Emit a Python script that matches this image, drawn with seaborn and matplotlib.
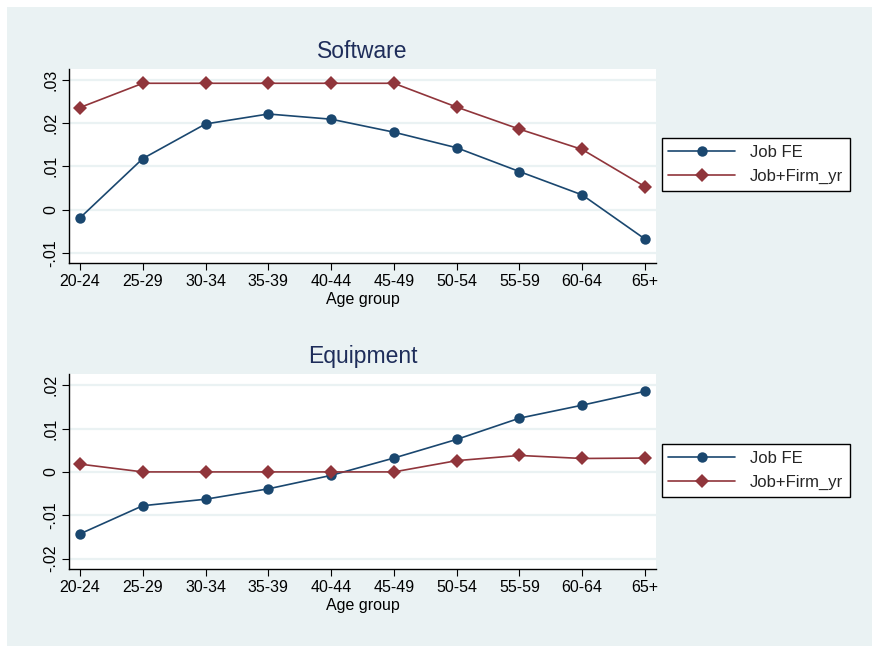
import matplotlib
matplotlib.use("Agg")
import matplotlib.pyplot as plt
from matplotlib.lines import Line2D
import seaborn as sns
import pandas as pd

age_groups = ["20-24", "25-29", "30-34", "35-39", "40-44",
              "45-49", "50-54", "55-59", "60-64", "65+"]

software_job_fe = [-0.0019, 0.0118, 0.0198, 0.0221, 0.0209,
                   0.0179, 0.0143, 0.0088, 0.0034, -0.0068]
software_job_firm = [0.0236, 0.0292, 0.0292, 0.0292, 0.0292,
                     0.0292, 0.0237, 0.0186, 0.0139, 0.0053]

equipment_job_fe = [-0.0143, -0.0078, -0.0063, -0.0039, -0.0008,
                    0.0032, 0.0075, 0.0124, 0.0154, 0.0186]
equipment_job_firm = [0.0018, 0.0000, 0.0000, 0.0000, 0.0000,
                      0.0000, 0.0026, 0.0038, 0.0031, 0.0032]

series_names = ["Job FE", "Job+Firm_yr"]
yticks_software = [-0.01, 0.0, 0.01, 0.02, 0.03]
yticks_equipment = [-0.02, -0.01, 0.0, 0.01, 0.02]
ytick_labels_software = ["-.01", "0", ".01", ".02", ".03"]
ytick_labels_equipment = ["-.02", "-.01", "0", ".01", ".02"]

NAVY = "#1a476f"
MAROON = "#90353b"
BG = "#eaf2f3"
TITLE_COLOR = "#1e2d5a"

sns.set_theme(style="white")
plt.rcParams["font.family"] = ["Liberation Sans", "DejaVu Sans"]

fig = plt.figure(figsize=(8.72, 6.46), dpi=100)
fig.patch.set_facecolor("white")
# light background panel
fig.add_artist(plt.Rectangle((7 / 872, 0), 1, 1 - 7 / 646,
                             transform=fig.transFigure, facecolor=BG,
                             edgecolor="none", zorder=-10))


def long_frame(fe, firm):
    return pd.DataFrame({
        "Age group": age_groups * 2,
        "value": list(fe) + list(firm),
        "model": [series_names[0]] * len(age_groups) + [series_names[1]] * len(age_groups),
    })


def panel(rect, title, fe, firm, ylim, yticks, ylabels, legend_y):
    ax = fig.add_axes(rect)
    ax.set_facecolor("white")
    df = long_frame(fe, firm)
    sns.lineplot(data=df, x="Age group", y="value", hue="model", style="model",
                 palette={series_names[0]: NAVY, series_names[1]: MAROON},
                 markers={series_names[0]: "o", series_names[1]: "D"},
                 dashes=False, markersize=7.5, linewidth=1.2,
                 markeredgewidth=0, sort=False, legend=False, ax=ax)
    ax.set_xlim(-0.17, 9.175)
    ax.set_ylim(*ylim)
    ax.set_yticks(yticks)
    ax.set_yticklabels(ylabels, rotation=90, va="center")
    ax.set_xticks(range(len(age_groups)))
    ax.set_xticklabels(age_groups)
    ax.yaxis.grid(True, color=BG, linewidth=1.6)
    ax.set_axisbelow(True)
    for s in ["top", "right"]:
        ax.spines[s].set_visible(False)
    for s in ["left", "bottom"]:
        ax.spines[s].set_color("black")
        ax.spines[s].set_linewidth(1.0)
    ax.tick_params(axis="both", which="major", direction="out", length=5,
                   width=0.8, color="black", labelsize=11.5, labelcolor="black",
                   left=True, bottom=True, pad=3)
    ax.set_xlabel("Age group", fontsize=11.5, color="black", labelpad=2)
    ax.set_ylabel("")
    ax.set_title(title, fontsize=16.5, color=TITLE_COLOR, pad=8)

    handles = [
        Line2D([], [], color=NAVY, marker="o", markersize=7.5, markeredgewidth=0,
               linewidth=1.2),
        Line2D([], [], color=MAROON, marker="D", markersize=7.5, markeredgewidth=0,
               linewidth=1.2),
    ]
    leg = fig.legend(handles, series_names, loc="upper left",
                     bbox_to_anchor=(661.7 / 872, legend_y),
                     frameon=True, fancybox=False, framealpha=1,
                     edgecolor="black", facecolor="white", fontsize=12,
                     handlelength=4.0, handletextpad=0.9, borderpad=0.4,
                     borderaxespad=0, labelspacing=0.55)
    leg.get_frame().set_linewidth(1.0)
    return ax


panel([0.0795, 0.5924, 0.6728, 0.3008], "Software",
      software_job_fe, software_job_firm, (-0.0124, 0.0325),
      yticks_software, ytick_labels_software, 1 - 138.3 / 646)
panel([0.0795, 0.1192, 0.6728, 0.3019], "Equipment",
      equipment_job_fe, equipment_job_firm, (-0.0224, 0.0226),
      yticks_equipment, ytick_labels_equipment, 1 - 444 / 646)

fig.savefig("out.png", dpi=100, facecolor=fig.get_facecolor())
